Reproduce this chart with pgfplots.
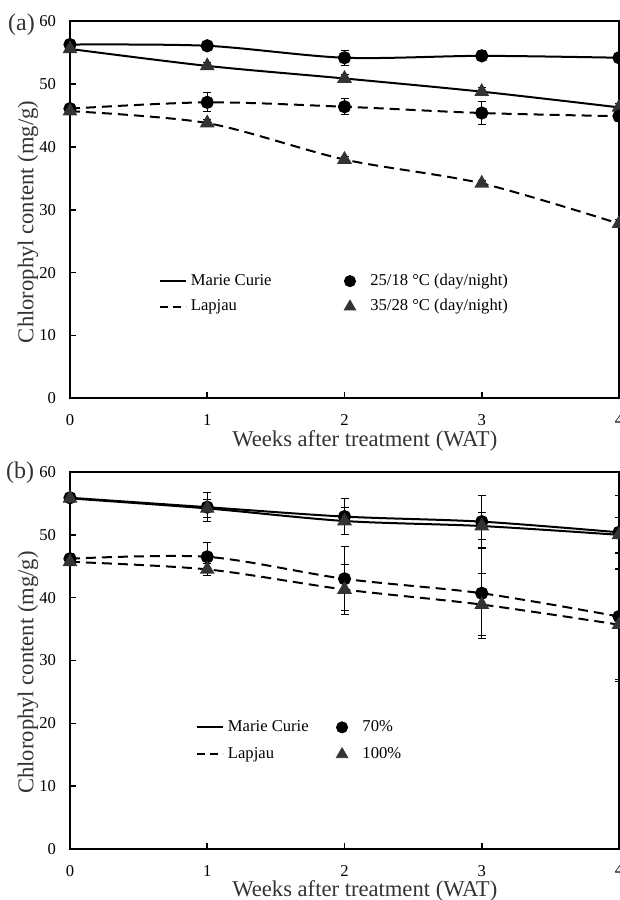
\documentclass[border=0pt]{standalone}
\usepackage{fontspec}
\setmainfont{Liberation Serif}
\usepackage{pgfplots}
\usepackage{pgfplotstable}
\pgfplotsset{compat=1.18}

% panel (a): temperature
\pgfplotstableread{
x y e
0 56.3 0.3
1 56.1 0.3
2 54.2 1.2
3 54.5 0.8
4 54.2 0.5
}\amcc
\pgfplotstableread{
x y e
0 55.6 0.3
1 52.9 0.6
2 50.9 0.6
3 48.8 0.6
4 46.3 0.6
}\amct
\pgfplotstableread{
x y e
0 46.1 0.4
1 47.1 1.5
2 46.4 1.3
3 45.4 1.8
4 44.9 0.8
}\aljc
\pgfplotstableread{
x y e
0 45.7 0.3
1 43.8 0.5
2 38.0 0.5
3 34.2 0.5
4 27.8 0.6
}\aljt

% panel (b): 70% / 100%
\pgfplotstableread{
x y e
0 55.9 0.5
1 54.4 2.3
2 52.9 2.9
3 52.1 4.1
4 50.4 5.9
}\bmcc
\pgfplotstableread{
x y e
0 55.8 0.4
1 54.2 1.4
2 52.2 2.2
3 51.4 2.2
4 50.0 2.8
}\bmct
\pgfplotstableread{
x y e
0 46.2 0.8
1 46.5 2.3
2 43.0 5.1
3 40.7 7.2
4 37.0 10.0
}\bljc
\pgfplotstableread{
x y e
0 45.7 0.5
1 44.5 1.0
2 41.3 3.9
3 38.9 5.0
4 35.7 9.0
}\bljt

\pgfplotsset{
  chl/.style={
    scale only axis, width=274.5pt, height=188.5pt,
    xmin=0, xmax=4, ymin=0, ymax=60,
    xtick={0,1,2,3,4}, ytick={0,10,...,60},
    tick pos=left, tick align=inside, major tick length=3pt,
    axis line style={line width=1pt},
    tick style={line width=0.8pt, black},
    /pgf/number format/assume math mode=true,
    ticklabel style={font=\fontsize{8.3}{9}\selectfont},
    yticklabel style={xshift=-3.5pt},
    xticklabel style={yshift=-4.5pt},
    label style={font=\fontsize{11.3}{13}\selectfont, text=black!80},
    xlabel={Weeks after treatment (WAT)},
    ylabel={Chlorophyl content (mg/g)},
    xlabel style={at={(axis description cs:0.537,-0.112)}, anchor=center},
    ylabel style={at={(axis description cs:-0.0765,0.468)}, anchor=center, rotate=0},
    legend columns=2,
    legend cell align=left,
    legend style={draw=none, fill=none, inner sep=0pt,
      font=\fontsize{8.3}{9}\selectfont},
  },
  mc/.style={black, line width=1pt, solid, smooth},
  lj/.style={black, line width=1pt, dash pattern=on 5pt off 3pt, smooth},
  circ/.style={mark=*, mark size=2.8pt, mark options={solid, fill=black, draw=black}},
  tri/.style={mark=triangle*, mark size=3.3pt, mark options={solid, fill=black!80, draw=black!80}},
  eb/.style={error bars/.cd, y dir=both, y explicit,
    error bar style={line width=0.5pt, solid, black},
    error mark options={line width=0.5pt, mark size=2pt, black, solid, rotate=90}},
  lineleg/.style={legend image code/.code={
      \draw[##1] (0pt,0pt) -- (12pt,0pt);
      \path (0pt,0pt) -- (13pt,0pt);}},
  markleg/.style={legend image code/.code={
      \path (0pt,0pt) (12pt,0pt);
      \path[##1] plot[only marks] coordinates {(4pt,0pt)};}},
}

\begin{document}
\begin{tikzpicture}
\begin{axis}[chl, name=pa, at={(35pt,250.85pt)}, anchor=south west,
  legend style={at={(axis cs:0.645,20.5)}, anchor=north west, row sep=1.5pt,
    /tikz/every even column/.append style={column sep=33pt}}]
  \addlegendimage{lineleg, black, line width=1pt}
  \addlegendentry{Marie Curie}
  \addlegendimage{markleg, circ}
  \addlegendentry{25/18 °C (day/night)}
  \addlegendimage{lineleg, black, line width=1pt, dash pattern=on 4pt off 2.5pt}
  \addlegendentry{Lapjau}
  \addlegendimage{markleg, tri}
  \addlegendentry{35/28 °C (day/night)}
  \addplot[mc, circ, eb] table[x=x, y=y, y error=e] {\amcc};
  \addplot[mc, tri, eb] table[x=x, y=y, y error=e] {\amct};
  \addplot[lj, circ, eb] table[x=x, y=y, y error=e] {\aljc};
  \addplot[lj, tri, eb] table[x=x, y=y, y error=e] {\aljt};
\end{axis}
\begin{axis}[chl, name=pb, at={(35pt,25.5pt)}, anchor=south west,
  legend style={at={(axis cs:0.915,21.18)}, anchor=north west, row sep=2.5pt,
    /tikz/every even column/.append style={column sep=10.5pt}}]
  \addlegendimage{lineleg, black, line width=1pt}
  \addlegendentry{Marie Curie}
  \addlegendimage{markleg, circ}
  \addlegendentry{70\%}
  \addlegendimage{lineleg, black, line width=1pt, dash pattern=on 4pt off 2.5pt}
  \addlegendentry{Lapjau}
  \addlegendimage{markleg, tri}
  \addlegendentry{100\%}
  \addplot[mc, circ, eb] table[x=x, y=y, y error=e] {\bmcc};
  \addplot[mc, tri, eb] table[x=x, y=y, y error=e] {\bmct};
  \addplot[lj, circ, eb] table[x=x, y=y, y error=e] {\bljc};
  \addplot[lj, tri, eb] table[x=x, y=y, y error=e] {\bljt};
\end{axis}
\node[font=\fontsize{12}{14}\selectfont, text=black!80] at ([xshift=-24.25pt, yshift=-1.6pt]pa.north west) {(a)};
\node[font=\fontsize{12}{14}\selectfont, text=black!80] at ([xshift=-25pt, yshift=-0.5pt]pb.north west) {(b)};
\pgfresetboundingbox
\path (0pt,0pt) rectangle (310pt,450pt);
\end{tikzpicture}
\end{document}
